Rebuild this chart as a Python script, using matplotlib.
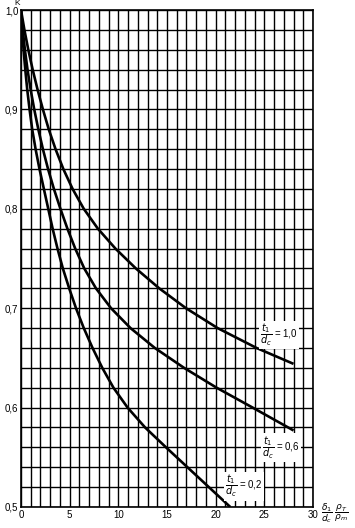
import numpy as np
import matplotlib
matplotlib.use("Agg")
import matplotlib.pyplot as plt

# curve t1/dc = 0.2
x_02 = [0, 0.12, 0.26, 0.44, 0.64, 0.88, 1.15, 1.5, 1.9, 2.35, 2.8, 3.25, 3.75, 4.3,
        4.95, 5.65, 6.45, 7.35, 8.35, 9.5, 10.95, 12.75, 14.9, 17.1, 19.3, 21.5]
k_02 = [1.0, 0.98, 0.96, 0.94, 0.92, 0.90, 0.88, 0.86, 0.84, 0.82, 0.80, 0.78, 0.76, 0.74,
        0.72, 0.70, 0.68, 0.66, 0.64, 0.62, 0.60, 0.58, 0.56, 0.54, 0.52, 0.50]
# curve t1/dc = 0.6
x_06 = [0, 0.18, 0.40, 0.67, 0.99, 1.36, 1.78, 2.25, 2.78, 3.38, 4.05, 4.77, 5.57, 6.5,
        7.7, 9.25, 11.25, 13.75, 16.75, 20.1, 23.8, 28.0]
k_06 = [1.0, 0.98, 0.96, 0.94, 0.92, 0.90, 0.88, 0.86, 0.84, 0.82, 0.80, 0.78, 0.76, 0.74,
        0.72, 0.70, 0.68, 0.66, 0.64, 0.62, 0.60, 0.577]
# curve t1/dc = 1.0
x_10 = [0, 0.35, 0.75, 1.2, 1.7, 2.25, 2.85, 3.55, 4.35, 5.3, 6.45, 7.9, 9.7, 11.8,
        14.2, 16.95, 20.2, 24.2, 28.0]
k_10 = [1.0, 0.98, 0.96, 0.94, 0.92, 0.90, 0.88, 0.86, 0.84, 0.82, 0.80, 0.78, 0.76, 0.74,
        0.72, 0.70, 0.68, 0.66, 0.644]

curve_labels = ["0,2", "0,6", "1,0"]
label_pos = [(21.0, 0.521), (24.8, 0.560), (24.6, 0.673)]

x_ticks = [0, 5, 10, 15, 20, 25, 30]
y_ticks = [0.5, 0.6, 0.7, 0.8, 0.9, 1.0]
y_tick_labels = ["0,5", "0,6", "0,7", "0,8", "0,9", "1,0"]

plt.rcParams['font.family'] = ['Liberation Sans', 'DejaVu Sans']
plt.rcParams['mathtext.fontset'] = 'dejavusans'

fig = plt.figure(figsize=(3.55, 5.28), dpi=100)
ax = fig.add_axes([21/355, 21/528, 292/355, 497/528])

# grid
for gx in np.arange(0, 31, 1):
    ax.axvline(gx, color='black', lw=1.0, zorder=1)
for gy in np.arange(0.5, 1.001, 0.02):
    ax.axhline(gy, color='black', lw=1.0, zorder=1)

for xs, ks in [(x_02, k_02), (x_06, k_06), (x_10, k_10)]:
    ax.plot(xs, ks, color='black', lw=1.9, zorder=3, solid_capstyle='butt',
            solid_joinstyle='round')

for lab, (lx, ly) in zip(curve_labels, label_pos):
    ax.text(lx, ly, r"$\dfrac{t_1}{d_c}$" + " = " + lab, fontsize=7, ha='left', va='center',
            zorder=4, bbox=dict(facecolor='white', edgecolor='none', pad=0.8))

ax.set_xlim(0, 30)
ax.set_ylim(0.5, 1.0)
ax.set_xticks(x_ticks)
ax.set_xticklabels([str(t) for t in x_ticks], fontsize=7)
ax.set_yticks(y_ticks)
ax.set_yticklabels(y_tick_labels, fontsize=7)
ax.tick_params(length=0, pad=2)
for s in ax.spines.values():
    s.set_linewidth(1.2)

fig.text(17/355, 1.0, "K", fontsize=6, ha='center', va='top')
fig.text(321/355, 1 - 513/528, r"$\dfrac{\delta_1}{d_c}\ \dfrac{\rho_T}{\rho_m}$",
         fontsize=6.5, ha='left', va='center')

fig.savefig("out.png", dpi=100)
